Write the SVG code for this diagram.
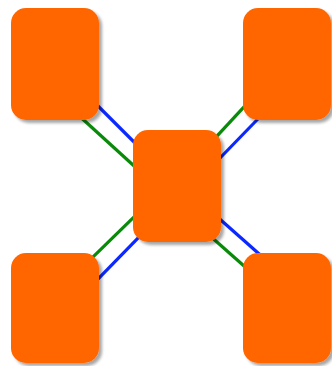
<svg xmlns="http://www.w3.org/2000/svg" width="332" height="366" viewBox="0 0 332 366">
<defs>
<filter id="sh" x="-10%" y="-10%" width="130%" height="130%">
<feGaussianBlur in="SourceAlpha" stdDeviation="1.5"/>
<feOffset dx="2.5" dy="2.5" result="b"/>
<feComponentTransfer><feFuncA type="linear" slope="0.35"/></feComponentTransfer>
<feMerge><feMergeNode/><feMergeNode in="SourceGraphic"/></feMerge>
</filter>
<style>
.n{fill:#FF6600;filter:url(#sh)}
.b{stroke:#0A28FF;stroke-width:3.2;fill:none}
.g{stroke:#0A8A0A;stroke-width:3.2;fill:none}
</style>
</defs>
<rect width="332" height="366" fill="#fff"/>
<g id="connectors">
<line class="b" x1="80" y1="88" x2="150" y2="158"/>
<line class="g" x1="70" y1="107.5" x2="150" y2="180.5"/>
<line class="g" x1="200" y1="154.4" x2="260" y2="89.6"/>
<line class="b" x1="205" y1="173.5" x2="270" y2="106.5"/>
<line class="g" x1="80" y1="269.6" x2="150" y2="201.4"/>
<line class="b" x1="85" y1="292.4" x2="155" y2="220.6"/>
<line class="b" x1="205" y1="206" x2="275" y2="268"/>
<line class="g" x1="200" y1="227" x2="270" y2="289"/>
</g>
<g id="node-tl"><rect class="n" x="11" y="8" width="88" height="112" rx="15"/></g>
<g id="node-tr"><rect class="n" x="243" y="8" width="88" height="112" rx="15"/></g>
<g id="node-c"><rect class="n" x="133" y="130" width="88" height="112" rx="15"/></g>
<g id="node-bl"><rect class="n" x="11" y="253" width="88" height="110" rx="15"/></g>
<g id="node-br"><rect class="n" x="243" y="253" width="88" height="110" rx="15"/></g>
</svg>
